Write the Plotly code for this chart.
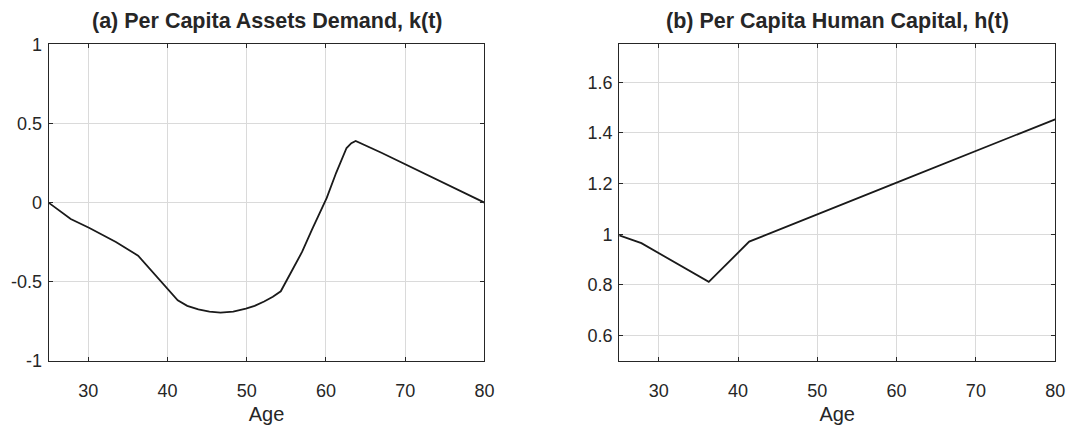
import plotly.graph_objects as go

# Panel (a): per capita assets demand k(t)
age_k = [25, 27.8, 30.1, 33.5, 36.3, 38.2, 40.1, 41.3, 42.5, 43.9, 45.3, 46.7, 48.3, 49.9,
         51.0, 52.2, 53.3, 54.3, 55.6, 57.0, 58.25, 59.3, 60.1, 61.3, 62.0, 62.6, 63.2, 63.75,
         67.0, 70.1, 73.5, 76.4, 80]
k_vals = [0.0, -0.104, -0.159, -0.249, -0.335, -0.44, -0.55, -0.617, -0.652, -0.675, -0.689,
          -0.695, -0.688, -0.67, -0.652, -0.625, -0.595, -0.56, -0.44, -0.31, -0.169, -0.06,
          0.03, 0.19, 0.28, 0.345, 0.376, 0.39, 0.315, 0.24, 0.16, 0.092, 0.0]

# Panel (b): per capita human capital h(t)
age_h = [25, 27.8, 36.3, 41.4, 60, 80]
h_vals = [0.996, 0.965, 0.812, 0.971, 1.204, 1.454]

x_ticks = [30, 40, 50, 60, 70, 80]
ka_ticks = [-1, -0.5, 0, 0.5, 1]
ka_labels = ["-1", "-0.5", "0", "0.5", "1"]
h_ticks = [0.6, 0.8, 1.0, 1.2, 1.4, 1.6]
h_labels = ["0.6", "0.8", "1", "1.2", "1.4", "1.6"]

titles = ["(a) Per Capita Assets Demand, k(t)", "(b) Per Capita Human Capital, h(t)"]

W, H = 1080, 431
FONT = "Liberation Sans, Arial, Helvetica, sans-serif"
AX = "#262626"
GRID = "#dadada"

fig = go.Figure()
fig.add_trace(go.Scatter(x=age_k, y=k_vals, mode="lines", xaxis="x", yaxis="y",
                         line=dict(color="#1a1a1a", width=1.8), showlegend=False))
fig.add_trace(go.Scatter(x=age_h, y=h_vals, mode="lines", xaxis="x2", yaxis="y2",
                         line=dict(color="#1a1a1a", width=1.8), showlegend=False))

ydom = [(H - 368) / H, (H - 36) / H]
common_x = dict(range=[25, 80], tickvals=x_ticks, ticktext=[str(v) for v in x_ticks],
                showgrid=True, gridcolor=GRID, gridwidth=1, zeroline=False,
                showline=True, linecolor=AX, linewidth=1, mirror="allticks",
                ticks="inside", ticklen=4, tickcolor=AX, ticklabelstandoff=13,
                tickfont=dict(family=FONT, size=18, color=AX),
                title=dict(text="Age", font=dict(family=FONT, size=20, color=AX), standoff=7))
common_y = dict(showgrid=True, gridcolor=GRID, gridwidth=1, zeroline=False,
                showline=True, linecolor=AX, linewidth=1, mirror="allticks",
                ticks="inside", ticklen=4, tickcolor=AX, ticklabelstandoff=2,
                tickfont=dict(family=FONT, size=18, color=AX), domain=ydom)

fig.update_layout(
    width=W, height=H,
    margin=dict(l=0, r=0, t=0, b=0),
    paper_bgcolor="white", plot_bgcolor="white",
    xaxis=dict(domain=[49 / W, 489 / W], anchor="y", **common_x),
    yaxis=dict(range=[-1, 1], tickvals=ka_ticks, ticktext=ka_labels, anchor="x", **common_y),
    xaxis2=dict(domain=[625 / W, 1065 / W], anchor="y2", **common_x),
    yaxis2=dict(range=[0.5, 1.75], tickvals=h_ticks, ticktext=h_labels, anchor="x2", **common_y),
)

for i, (t, cx) in enumerate(zip(titles, [269, 845])):
    fig.add_annotation(text="<b>%s</b>" % t, x=cx / W, y=1 - 12 / H, xref="paper", yref="paper",
                       showarrow=False, xanchor="center", yanchor="middle",
                       font=dict(family=FONT, size=21.5, color=AX))

fig.write_html("out.html")
